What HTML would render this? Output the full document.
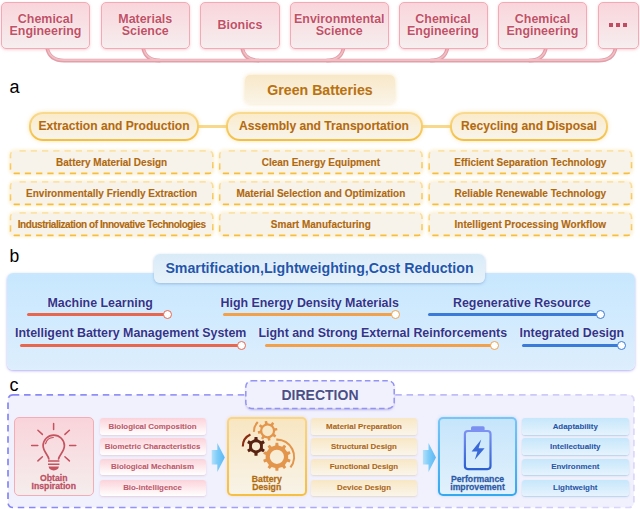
<!DOCTYPE html>
<html><head><meta charset="utf-8">
<style>
*{box-sizing:border-box;margin:0;padding:0}
html,body{width:640px;height:509px;overflow:hidden;background:#fff;font-family:"Liberation Sans",sans-serif;font-weight:bold}
.abs{position:absolute}
.c{display:flex;align-items:center;justify-content:center;text-align:center;white-space:nowrap;text-shadow:0 0 1.5px rgba(255,255,255,.9)}
.bigt{text-shadow:0 0 1.5px rgba(255,255,255,.9)}
.tp{position:absolute;top:2px;height:46.5px;border:1.5px solid #f2aab4;border-radius:5px;background:linear-gradient(#f9d5db,#f6eeef);box-shadow:0 1px 3px rgba(225,120,140,.35);color:#c25066;font-size:12.45px;line-height:12px}
.lbl{position:absolute;font-weight:normal;color:#000;line-height:1}
.pill{position:absolute;top:112px;height:28.5px;border:2px solid transparent;border-radius:14px;background:linear-gradient(#faebcb,#f8f4ec) padding-box,linear-gradient(#f9da90,#f4bf3f) border-box;box-shadow:0 0 4px rgba(246,200,92,.45);color:#b56a0a;font-size:12.1px;-webkit-text-stroke:0.12px #b56a0a}
.dtx{position:absolute;height:23px;padding-top:1.4px;color:#b0680c;font-size:10px;-webkit-text-stroke:0.15px #b0680c}
.bt{position:absolute;color:#33348a;font-size:12.4px;white-space:nowrap;text-shadow:0 0 1.5px rgba(255,255,255,.8);margin-top:0.6px}
.ln{position:absolute;height:2.7px;border-radius:1.5px}
.dot{position:absolute;width:9px;height:9px;border-radius:50%;background:#fff;border:1.8px solid}
.pk{position:absolute;padding-bottom:0.2px;left:99.5px;width:106px;height:16.5px;border-radius:3px;background:linear-gradient(#fbd3da,#fff);box-shadow:0 1px 2px rgba(200,150,170,.35);color:#c05868;font-size:7.9px;-webkit-text-stroke:0.1px #c05868}
.yl{position:absolute;padding-bottom:0.2px;left:311px;width:106px;height:16.5px;border-radius:3px;background:linear-gradient(#f8e7c4,#faf5ea);box-shadow:0 1px 2px rgba(200,170,120,.35);color:#ad6610;font-size:7.9px;-webkit-text-stroke:0.1px #ad6610}
.bl{position:absolute;padding-bottom:0.2px;left:522px;width:106.5px;height:16.5px;border-radius:3px;background:linear-gradient(#c6e7fb,#e6f3fd);box-shadow:0 1px 1.5px rgba(110,170,210,.45);color:#2456a8;font-size:7.9px;-webkit-text-stroke:0.1px #2456a8}
.big{position:absolute;top:416.5px;height:79px;border-radius:5px;border:2px solid}
.bigt{position:absolute;left:0;right:0;text-align:center;font-size:8.7px;line-height:7.35px;-webkit-text-stroke:0.28px currentColor}
</style></head><body>
<svg class="abs" style="left:0;top:0" width="640" height="70"><path d="M47.2 48.5 C48.8 55.8, 53.7 60.6, 64.2 60.6 L598.5 60.6 C609 60.6, 613.9 55.8, 615.5 48.5" fill="none" stroke="#e49ea8" stroke-width="3.6"/><path d="M143.2 48.5 C144.79999999999998 55.8, 149.7 60.6, 160.2 60.6" fill="none" stroke="#e49ea8" stroke-width="3.6"/><path d="M242.2 48.5 C243.79999999999998 55.8, 248.7 60.6, 259.2 60.6" fill="none" stroke="#e49ea8" stroke-width="3.6"/><path d="M343.4 48.5 C341.79999999999995 55.8, 336.9 60.6, 326.4 60.6" fill="none" stroke="#e49ea8" stroke-width="3.6"/><path d="M447.3 48.5 C445.7 55.8, 440.8 60.6, 430.3 60.6" fill="none" stroke="#e49ea8" stroke-width="3.6"/><path d="M545.8 48.5 C544.1999999999999 55.8, 539.3 60.6, 528.8 60.6" fill="none" stroke="#e49ea8" stroke-width="3.6"/><path d="M47.2 48.5 C48.8 55.8, 53.7 60.6, 64.2 60.6 L598.5 60.6 C609 60.6, 613.9 55.8, 615.5 48.5" fill="none" stroke="#efc1c6" stroke-width="1.6" transform="translate(0.2,-0.45)"/><path d="M143.2 48.5 C144.79999999999998 55.8, 149.7 60.6, 160.2 60.6" fill="none" stroke="#efc1c6" stroke-width="1.6" transform="translate(0.2,-0.45)"/><path d="M242.2 48.5 C243.79999999999998 55.8, 248.7 60.6, 259.2 60.6" fill="none" stroke="#efc1c6" stroke-width="1.6" transform="translate(0.2,-0.45)"/><path d="M343.4 48.5 C341.79999999999995 55.8, 336.9 60.6, 326.4 60.6" fill="none" stroke="#efc1c6" stroke-width="1.6" transform="translate(0.2,-0.45)"/><path d="M447.3 48.5 C445.7 55.8, 440.8 60.6, 430.3 60.6" fill="none" stroke="#efc1c6" stroke-width="1.6" transform="translate(0.2,-0.45)"/><path d="M545.8 48.5 C544.1999999999999 55.8, 539.3 60.6, 528.8 60.6" fill="none" stroke="#efc1c6" stroke-width="1.6" transform="translate(0.2,-0.45)"/></svg>
<div class="tp c" style="left:1px;width:89px">Chemical<br>Engineering</div>
<div class="tp c" style="left:101px;width:88.5px">Materials<br>Science</div>
<div class="tp c" style="left:200px;width:80px">Bionics</div>
<div class="tp c" style="left:290px;width:98.5px">Environmtental<br>Science</div>
<div class="tp c" style="left:398.5px;width:89px">Chemical<br>Engineering</div>
<div class="tp c" style="left:498px;width:89px">Chemical<br>Engineering</div>
<div class="tp" style="left:597.5px;width:41px"><i style="position:absolute;left:10.4px;top:20.45px;width:4px;height:3.9px;background:#c14c62"></i><i style="position:absolute;left:17.65px;top:20.45px;width:4px;height:3.9px;background:#c14c62"></i><i style="position:absolute;left:24.9px;top:20.45px;width:4px;height:3.9px;background:#c14c62"></i></div>
<div class="lbl" style="left:9.5px;top:78.3px;font-size:18px">a</div>
<div class="abs c" style="left:245px;top:75px;width:150px;height:29px;border-radius:5px;background:linear-gradient(#f8e8c8,#faf4e8);box-shadow:0 0 4px rgba(240,200,120,.5);color:#bb720c;font-size:14.15px;-webkit-text-stroke:0.12px #bb720c">Green Batteries</div>
<div class="abs" style="left:196px;top:125px;width:32px;height:3px;background:#f8d88a"></div>
<div class="abs" style="left:420px;top:125px;width:32px;height:3px;background:#f8d88a"></div>
<div class="pill c" style="left:29px;width:170px">Extraction and Production</div>
<div class="pill c" style="left:225.5px;width:197px">Assembly and Transportation</div>
<div class="pill c" style="left:450px;width:158px">Recycling and Disposal</div>
<svg class="abs" style="left:0;top:0" width="640" height="245"><defs><linearGradient id="dg" x1="0" y1="0" x2="0" y2="1"><stop offset="0" stop-color="#fae2a8"/><stop offset="0.5" stop-color="#f8d070"/><stop offset="1" stop-color="#f6be3a"/></linearGradient><filter id="gl" x="-5%" y="-30%" width="110%" height="160%"><feGaussianBlur stdDeviation="1.5"/></filter></defs><rect x="10.5" y="150.9" width="202.3" height="22.5" rx="4" fill="none" stroke="#fdf0cf" stroke-width="3" filter="url(#gl)"/><rect x="10.5" y="150.9" width="202.3" height="22.5" rx="4" fill="#f8f3ea" stroke="url(#dg)" stroke-width="1.6" stroke-dasharray="6.25 5" stroke-dashoffset="-5"/><rect x="219.7" y="150.9" width="202.3" height="22.5" rx="4" fill="none" stroke="#fdf0cf" stroke-width="3" filter="url(#gl)"/><rect x="219.7" y="150.9" width="202.3" height="22.5" rx="4" fill="#f8f3ea" stroke="url(#dg)" stroke-width="1.6" stroke-dasharray="6.25 5" stroke-dashoffset="-5"/><rect x="429.2" y="150.9" width="202.3" height="22.5" rx="4" fill="none" stroke="#fdf0cf" stroke-width="3" filter="url(#gl)"/><rect x="429.2" y="150.9" width="202.3" height="22.5" rx="4" fill="#f8f3ea" stroke="url(#dg)" stroke-width="1.6" stroke-dasharray="6.25 5" stroke-dashoffset="-5"/><rect x="10.5" y="181.9" width="202.3" height="22.5" rx="4" fill="none" stroke="#fdf0cf" stroke-width="3" filter="url(#gl)"/><rect x="10.5" y="181.9" width="202.3" height="22.5" rx="4" fill="#f8f3ea" stroke="url(#dg)" stroke-width="1.6" stroke-dasharray="6.25 5" stroke-dashoffset="-5"/><rect x="219.7" y="181.9" width="202.3" height="22.5" rx="4" fill="none" stroke="#fdf0cf" stroke-width="3" filter="url(#gl)"/><rect x="219.7" y="181.9" width="202.3" height="22.5" rx="4" fill="#f8f3ea" stroke="url(#dg)" stroke-width="1.6" stroke-dasharray="6.25 5" stroke-dashoffset="-5"/><rect x="429.2" y="181.9" width="202.3" height="22.5" rx="4" fill="none" stroke="#fdf0cf" stroke-width="3" filter="url(#gl)"/><rect x="429.2" y="181.9" width="202.3" height="22.5" rx="4" fill="#f8f3ea" stroke="url(#dg)" stroke-width="1.6" stroke-dasharray="6.25 5" stroke-dashoffset="-5"/><rect x="10.5" y="212.9" width="202.3" height="22.5" rx="4" fill="none" stroke="#fdf0cf" stroke-width="3" filter="url(#gl)"/><rect x="10.5" y="212.9" width="202.3" height="22.5" rx="4" fill="#f8f3ea" stroke="url(#dg)" stroke-width="1.6" stroke-dasharray="6.25 5" stroke-dashoffset="-5"/><rect x="219.7" y="212.9" width="202.3" height="22.5" rx="4" fill="none" stroke="#fdf0cf" stroke-width="3" filter="url(#gl)"/><rect x="219.7" y="212.9" width="202.3" height="22.5" rx="4" fill="#f8f3ea" stroke="url(#dg)" stroke-width="1.6" stroke-dasharray="6.25 5" stroke-dashoffset="-5"/><rect x="429.2" y="212.9" width="202.3" height="22.5" rx="4" fill="none" stroke="#fdf0cf" stroke-width="3" filter="url(#gl)"/><rect x="429.2" y="212.9" width="202.3" height="22.5" rx="4" fill="#f8f3ea" stroke="url(#dg)" stroke-width="1.6" stroke-dasharray="6.25 5" stroke-dashoffset="-5"/></svg>
<div class="dtx c" style="left:10.5px;top:150.9px;width:202.3px;height:22.5px;">Battery Material Design</div>
<div class="dtx c" style="left:219.7px;top:150.9px;width:202.3px;height:22.5px;">Clean Energy Equipment</div>
<div class="dtx c" style="left:429.2px;top:150.9px;width:202.3px;height:22.5px;">Efficient Separation Technology</div>
<div class="dtx c" style="left:10.5px;top:181.9px;width:202.3px;height:22.5px;">Environmentally Friendly Extraction</div>
<div class="dtx c" style="left:219.7px;top:181.9px;width:202.3px;height:22.5px;">Material Selection and Optimization</div>
<div class="dtx c" style="left:429.2px;top:181.9px;width:202.3px;height:22.5px;">Reliable Renewable Technology</div>
<div class="dtx c" style="left:10.5px;top:212.9px;width:202.3px;height:22.5px;letter-spacing:-0.45px;">Industrialization of Innovative Technologies</div>
<div class="dtx c" style="left:219.7px;top:212.9px;width:202.3px;height:22.5px;">Smart Manufacturing</div>
<div class="dtx c" style="left:429.2px;top:212.9px;width:202.3px;height:22.5px;">Intelligent Processing Workflow</div>
<div class="lbl" style="left:9.5px;top:247.8px;font-size:17.5px">b</div>
<div class="abs" style="left:7px;top:272.5px;width:627.8px;height:97.3px;border-radius:6px;background:linear-gradient(#c7e7fe,#ddeefd);box-shadow:0 1px 2.5px rgba(150,140,235,.7)"></div>
<div class="abs c" style="left:154px;top:254.4px;width:331px;height:29px;padding-bottom:2px;border-radius:6px;background:linear-gradient(#d9ebf8,#e7f2fb);box-shadow:0 1px 3px rgba(90,130,190,.45);color:#2256ad;font-size:14.2px">Smartification,Lightweighting,Cost Reduction</div>
<div class="bt" style="left:47.5px;top:295px">Machine Learning</div>
<div class="ln" style="left:26.5px;top:313px;width:140px;background:#e8664e"></div>
<div class="dot" style="left:162.5px;top:310px;border-color:#e8664e"></div>
<div class="bt" style="left:220.5px;top:295px">High Energy Density Materials</div>
<div class="ln" style="left:223px;top:313px;width:172px;background:#f2a04a"></div>
<div class="dot" style="left:390.5px;top:310px;border-color:#f2a04a"></div>
<div class="bt" style="left:453px;top:295px">Regenerative Resource</div>
<div class="ln" style="left:428px;top:313px;width:172px;background:#3a7ad8"></div>
<div class="dot" style="left:595.5px;top:310px;border-color:#3a7ad8"></div>
<div class="bt" style="left:15px;top:325px">Intelligent Battery Management System</div>
<div class="ln" style="left:20px;top:344px;width:221px;background:#e8664e"></div>
<div class="dot" style="left:236.5px;top:340.5px;border-color:#e8664e"></div>
<div class="bt" style="left:258.5px;top:325px">Light and Strong External Reinforcements</div>
<div class="ln" style="left:264.5px;top:344px;width:229px;background:#f2a04a"></div>
<div class="dot" style="left:489.5px;top:340.5px;border-color:#f2a04a"></div>
<div class="bt" style="left:519.5px;top:325px">Integrated Design</div>
<div class="ln" style="left:522px;top:344px;width:99px;background:#3a7ad8"></div>
<div class="dot" style="left:617px;top:340.5px;border-color:#3a7ad8"></div>
<div class="lbl" style="left:9.5px;top:375.5px;font-size:18px">c</div>
<svg class="abs" style="left:0;top:0" width="640" height="509">
<defs><linearGradient id="pg" x1="0" y1="0" x2="1" y2="0"><stop offset="0" stop-color="#8585f7"/><stop offset="0.35" stop-color="#a09ef7"/><stop offset="0.8" stop-color="#c8c4f8"/><stop offset="1" stop-color="#dcd7fb"/></linearGradient>
<filter id="sh" x="-10%" y="-20%" width="120%" height="150%"><feGaussianBlur stdDeviation="1.3"/></filter></defs>
<rect x="8" y="394.8" width="625.9" height="112.7" rx="5" fill="#f1f0fd" stroke="url(#pg)" stroke-width="1.7" stroke-dasharray="6.5 4.75" stroke-dashoffset="0.2"/>
<rect x="246" y="382" width="148" height="28" rx="6" fill="rgba(120,120,190,.45)" filter="url(#sh)"/>
<rect x="245.8" y="380.8" width="148.4" height="27.6" rx="6" fill="#f1f0fd" stroke="#9393f6" stroke-width="1.5" stroke-dasharray="5.5 3.2"/>
</svg>
<div class="abs c" style="left:245px;top:380px;width:150px;height:29px;color:#4a4f88;font-size:14px">DIRECTION</div>
<div class="big" style="left:14px;width:79.5px;border:1.5px solid #f2adb6;background:linear-gradient(#f9d4da,#f5eded)"><div class="bigt" style="top:57.8px;color:#bd4f62">Obtain<br>Inspiration</div></div>
<div class="pk c" style="top:418px">Biological Composition</div>
<div class="pk c" style="top:438.3px">Biometric Characteristics</div>
<div class="pk c" style="top:458.7px">Biological Mechanism</div>
<div class="pk c" style="top:479.6px">Bio-intelligence</div>
<div class="big" style="left:227px;width:79.5px;border-color:transparent;background:linear-gradient(#f8e6c2,#f8f3e8) padding-box,linear-gradient(#f8d588,#f5bf42) border-box;box-shadow:0 0 3px rgba(245,190,70,.35)"><div class="bigt" style="top:57.8px;color:#b26c0c">Battery<br>Design</div></div>
<div class="yl c" style="top:418px">Material Preparation</div>
<div class="yl c" style="top:438.3px">Structural Design</div>
<div class="yl c" style="top:458.7px">Functional Design</div>
<div class="yl c" style="top:479.6px">Device Design</div>
<div class="big" style="left:438px;width:79px;border-color:transparent;background:linear-gradient(#c6e5fb,#e2f1fc) padding-box,linear-gradient(#78c6f6,#34a8f0) border-box;box-shadow:0 0 3px rgba(80,170,240,.3)"><div class="bigt" style="top:57.8px;color:#2a5aa8">Performance<br>improvement</div></div>
<div class="bl c" style="top:418px">Adaptability</div>
<div class="bl c" style="top:438.3px">Intellectuality</div>
<div class="bl c" style="top:458.7px">Environment</div>
<div class="bl c" style="top:479.6px">Lightweight</div>
<svg class="abs" style="left:0;top:0" width="640" height="509"><defs><linearGradient id="ag" x1="0" x2="1"><stop offset="0" stop-color="#b4e0fb"/><stop offset="0.45" stop-color="#7ccbf8"/><stop offset="1" stop-color="#5ab8f5"/></linearGradient><linearGradient id="batg" x1="0" y1="0" x2="0" y2="1"><stop offset="0" stop-color="#7d92f2"/><stop offset="1" stop-color="#2c5fd0"/></linearGradient></defs><path d="M211.7 449.9 L217.3 449.9 L217.3 442.9 L224.8 457.4 L217.3 472 L217.3 464.5 L211.7 464.5 Z" fill="url(#ag)"/><path d="M422.9 449.9 L428.5 449.9 L428.5 442.9 L436 457.4 L428.5 472 L428.5 464.5 L422.9 464.5 Z" fill="url(#ag)"/><g fill="none" stroke="#c4525f" stroke-width="1.5" stroke-linecap="round"><path d="M53.6 423.6 L53.6 429.6 M31.6 445.5 L37.8 445.5 M69.6 445.5 L75.8 445.5 M37.9 430.2 L42.4 434.4 M69.4 430.2 L64.9 434.4 M37.9 460.9 L42.4 456.7 M69.4 460.9 L64.9 456.7"/><path stroke-width="1.7" d="M48.8 459 C48.6 455.2 43.1 451.6 43.1 445.8 A10.65 10.65 0 1 1 64.4 445.8 C64.4 451.6 58.8 455.2 58.6 459"/><path stroke-width="1.25" d="M45.6 443.6 A8.3 8.3 0 0 1 53.2 437.5"/><path stroke-width="1.5" stroke-linecap="butt" d="M48 461.1 L59.4 461.1 M48 464.2 L59.4 464.2"/></g><path d="M48.6 466.6 L58.9 466.6 Q58.4 470.4 53.75 470.4 Q49.1 470.4 48.6 466.6 Z" fill="#c4525f"/><path fill="#e3954c" fill-rule="evenodd" d="M264.95 423.68 L264.69 421.34 L267.10 420.91 L267.65 423.20 L270.76 423.89 L272.23 422.05 L274.24 423.45 L273.01 425.46 L274.72 428.15 L277.06 427.89 L277.49 430.30 L275.20 430.85 L274.51 433.96 L276.35 435.43 L274.95 437.44 L272.94 436.21 L270.25 437.92 L270.51 440.26 L268.10 440.69 L267.55 438.40 L264.44 437.71 L262.97 439.55 L260.96 438.15 L262.19 436.14 L260.48 433.45 L258.14 433.71 L257.71 431.30 L260.00 430.75 L260.69 427.64 L258.85 426.17 L260.25 424.16 L262.26 425.39 Z M272.95 430.80 A5.35 5.35 0 1 0 262.25 430.80 A5.35 5.35 0 1 0 272.95 430.80 Z"/><path fill="#e3954c" stroke="#f8ecd6" stroke-width="1.2" paint-order="stroke" fill-rule="evenodd" d="M275.25 445.52 L275.52 442.87 L278.28 442.87 L278.55 445.52 L282.20 446.71 L283.97 444.72 L286.21 446.34 L284.86 448.64 L287.12 451.75 L289.72 451.18 L290.58 453.81 L288.14 454.88 L288.14 458.72 L290.58 459.79 L289.72 462.42 L287.12 461.85 L284.86 464.96 L286.21 467.26 L283.97 468.88 L282.20 466.89 L278.55 468.08 L278.28 470.73 L275.52 470.73 L275.25 468.08 L271.60 466.89 L269.83 468.88 L267.59 467.26 L268.94 464.96 L266.68 461.85 L264.08 462.42 L263.22 459.79 L265.66 458.72 L265.66 454.88 L263.22 453.81 L264.08 451.18 L266.68 451.75 L268.94 448.64 L267.59 446.34 L269.83 444.72 L271.60 446.71 Z M284.00 456.80 A7.1 7.1 0 1 0 269.80 456.80 A7.1 7.1 0 1 0 284.00 456.80 Z"/><path fill="#5a2210" stroke="#f8ead2" stroke-width="1.2" paint-order="stroke" fill-rule="evenodd" d="M254.36 439.29 L254.51 436.92 L257.49 436.92 L257.64 439.29 L261.25 441.37 L263.38 440.32 L264.87 442.90 L262.89 444.22 L262.89 448.38 L264.87 449.70 L263.38 452.28 L261.25 451.23 L257.64 453.31 L257.49 455.68 L254.51 455.68 L254.36 453.31 L250.75 451.23 L248.62 452.28 L247.13 449.70 L249.11 448.38 L249.11 444.22 L247.13 442.90 L248.62 440.32 L250.75 441.37 Z M260.10 446.30 A4.1 4.1 0 1 0 251.90 446.30 A4.1 4.1 0 1 0 260.10 446.30 Z"/><g fill="none" stroke-width="2.1" stroke-linecap="butt"><path stroke="#8a2c12" d="M242.80 446.50 A13.2 13.2 0 0 1 250.42 434.54"/><path stroke="#e3954c" d="M254.01 431.87 A13.4 13.4 0 0 1 257.76 422.09"/><path stroke="#e3954c" d="M276.30 439.61 A17.2 17.2 0 0 1 290.45 467.39"/></g><rect x="471" y="426.3" width="13.6" height="5" rx="1.5" fill="#7b90f1"/><rect x="464.9" y="431" width="25.6" height="38.1" rx="3" fill="none" stroke="url(#batg)" stroke-width="2.2"/><path d="M481.2 439.6 L471.6 451.4 L477.4 451.4 L474.8 459.8 L484.6 448.2 L478.6 448.2 Z" fill="#3a6ad8"/></svg>
</body></html>
